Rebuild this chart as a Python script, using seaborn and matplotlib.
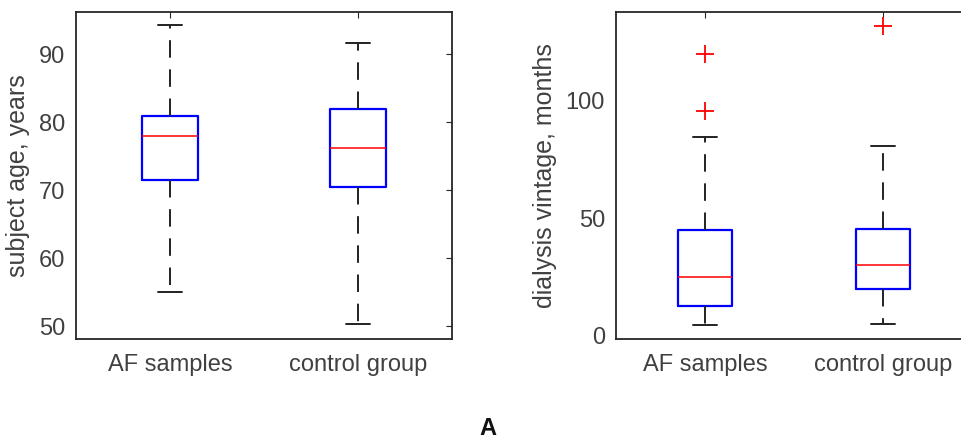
import matplotlib
matplotlib.use("Agg")
import matplotlib.pyplot as plt
import seaborn as sns

sns.set_style("white")
plt.rcParams['font.family'] = ['Liberation Sans', 'DejaVu Sans']

groups = ["AF samples", "control group"]

# subject age, years
age_low = [55.0, 50.3]
age_q1 = [71.5, 70.5]
age_med = [78.0, 76.2]
age_q3 = [80.9, 81.9]
age_high = [94.3, 91.6]
age_out = [[], []]

# dialysis vintage, months
vint_low = [4.7, 5.1]
vint_q1 = [12.8, 20.0]
vint_med = [25.0, 30.1]
vint_q3 = [44.8, 45.3]
vint_high = [84.3, 80.4]
vint_out = [[95.4, 119.6], [131.3]]


def stats(lo, q1, med, q3, hi, out):
    return [dict(whislo=lo[i], q1=q1[i], med=med[i], q3=q3[i], whishi=hi[i],
                 fliers=out[i], label=groups[i]) for i in range(len(groups))]


fig = plt.figure(figsize=(9.62, 4.40), dpi=100)
ax1 = fig.add_axes([76 / 962, 1 - 339 / 440, 376 / 962, 327 / 440])
ax2 = fig.add_axes([616 / 962, 1 - 339 / 440, 356 / 962, 327 / 440])

tick_col = "#404040"
frame_col = "#262626"

def draw(ax, st, ylim, yticks, ylabel):
    ax.bxp(st, positions=[1, 2], widths=0.3, showfliers=True,
           boxprops=dict(color="#0000FF", linewidth=1.6),
           medianprops=dict(color="#FF0000", linewidth=1.1),
           whiskerprops=dict(color="#222222", linewidth=1.4, linestyle=(0, (9, 6))),
           capprops=dict(color="#222222", linewidth=1.4),
           capwidths=0.13,
           flierprops=dict(marker="+", markeredgecolor="#FF0000", markersize=13,
                           markeredgewidth=1.3, linestyle="none"))
    ax.set_xlim(0.5, 2.5)
    ax.set_ylim(*ylim)
    ax.set_yticks(yticks)
    ax.set_xticks([1, 2])
    ax.set_xticklabels(groups)
    ax.tick_params(axis="both", direction="in", length=4, width=0.8, colors=frame_col,
                   labelcolor=tick_col, labelsize=17, top=True, right=True, pad=8)
    ax.tick_params(axis="x", pad=11)
    ax.set_ylabel(ylabel, fontsize=18, color=tick_col, labelpad=6)
    for s in ax.spines.values():
        s.set_color(frame_col)
        s.set_linewidth(1.3)
        s.set_visible(True)


draw(ax1, stats(age_low, age_q1, age_med, age_q3, age_high, age_out),
     (48.1, 96.2), [50, 60, 70, 80, 90], "subject age, years")
draw(ax2, stats(vint_low, vint_q1, vint_med, vint_q3, vint_high, vint_out),
     (-1.3, 137.4), [0, 50, 100], "dialysis vintage, months")

fig.text(488 / 962, 1 - 428 / 440, "A", ha="center", va="center",
         fontsize=17, fontweight="bold", color="#111111")

fig.savefig("out.png", dpi=100)
